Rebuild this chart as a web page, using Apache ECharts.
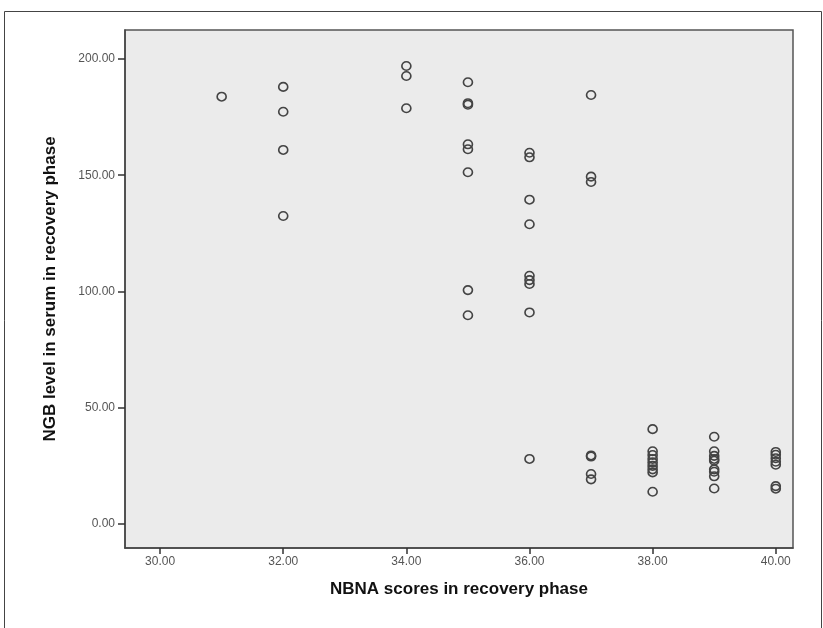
<!DOCTYPE html>
<html>
<head>
<meta charset="utf-8">
<script src="https://cdn.jsdelivr.net/npm/echarts@6/dist/echarts.min.js"></script>
<style>
  html, body { margin: 0; padding: 0; background: #fff; }
  #chart { width: 823px; height: 628px; }
</style>
</head>
<body>
<div id="chart"></div>
<script>
// NBNA score (x) and NGB values (y) read per score column
const scoreLevels = [31, 32, 34, 35, 36, 37, 38, 39, 40];
const ngb31 = [183.8];
const ngb32 = [188.0, 177.3, 160.9, 132.5];
const ngb34 = [197.0, 192.7, 178.8];
const ngb35 = [190.0, 181.0, 180.3, 163.3, 161.2, 151.3, 100.6, 89.8];
const ngb36 = [159.7, 157.7, 139.5, 128.9, 106.8, 104.9, 103.2, 91.0, 28.0];
const ngb37 = [184.5, 149.4, 147.1, 29.5, 29.0, 21.5, 19.2];
const ngb38 = [40.8, 31.3, 29.7, 28.0, 26.5, 25.0, 23.5, 22.2, 13.9];
const ngb39 = [37.5, 31.3, 29.3, 28.0, 27.2, 23.5, 22.5, 20.5, 15.3];
const ngb40 = [31.0, 29.8, 28.3, 26.8, 25.5, 16.3, 15.2];
const ngbByLevel = [ngb31, ngb32, ngb34, ngb35, ngb36, ngb37, ngb38, ngb39, ngb40];

const xTicks = [30, 32, 34, 36, 38, 40];
const yTicks = [0, 50, 100, 150, 200];

const points = [];
scoreLevels.forEach((s, i) => {
  ngbByLevel[i].forEach(v => points.push([s, v]));
});

const chart = echarts.init(document.getElementById('chart'));
chart.setOption({
  animation: false,
  backgroundColor: '#fff',
  graphic: [{
    type: 'rect',
    shape: { x: 4.5, y: 11.5, width: 817, height: 640 },
    style: { fill: 'none', stroke: '#444', lineWidth: 1 },
    silent: true
  }],
  grid: {
    left: 125, top: 30, right: 30, bottom: 80,
    show: true,
    backgroundColor: '#ebebeb',
    borderColor: '#555',
    borderWidth: 1.5
  },
  xAxis: {
    type: 'value',
    min: 29.43, max: 40.28,
    name: 'NBNA scores in recovery phase',
    nameLocation: 'middle',
    nameGap: 33,
    nameTextStyle: { fontFamily: 'Liberation Sans', fontWeight: 'bold', fontSize: 17, color: '#111' },
    axisLine: { show: true, onZero: false, lineStyle: { color: '#444', width: 1.5 } },
    axisTick: { show: true, length: 6, lineStyle: { color: '#333', width: 1.5 }, customValues: xTicks },
    axisLabel: {
      customValues: xTicks,
      formatter: v => v.toFixed(2),
      fontFamily: 'Liberation Sans', fontSize: 12, color: '#555', margin: 8
    },
    splitLine: { show: false }
  },
  yAxis: {
    type: 'value',
    min: -10.32, max: 212.47,
    name: 'NGB level in serum in recovery phase',
    nameLocation: 'middle',
    nameGap: 66,
    nameTextStyle: { fontFamily: 'Liberation Sans', fontWeight: 'bold', fontSize: 17, color: '#111' },
    axisLine: { show: true, onZero: false, lineStyle: { color: '#444', width: 1.5 } },
    axisTick: { show: true, length: 7, lineStyle: { color: '#333', width: 1.5 }, customValues: yTicks },
    axisLabel: {
      customValues: yTicks,
      formatter: v => v.toFixed(2),
      fontFamily: 'Liberation Sans', fontSize: 12, color: '#555', margin: 10
    },
    splitLine: { show: false }
  },
  series: [{
    type: 'scatter',
    data: points,
    symbol: 'circle',
    symbolSize: [9, 8.5],
    itemStyle: { color: 'rgba(0,0,0,0)', borderColor: '#444', borderWidth: 1.6, opacity: 1 }
  }]
});
</script>
</body>
</html>
